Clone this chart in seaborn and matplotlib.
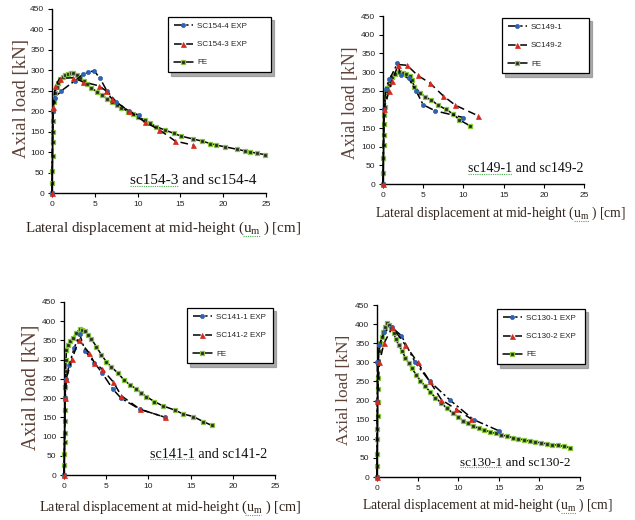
import matplotlib
matplotlib.use("Agg")
import matplotlib.pyplot as plt
import seaborn as sns
from matplotlib.lines import Line2D

# ---------------------------------------------------------------- data
x_ticks = [0, 5, 10, 15, 20, 25]
y_ticks = [0, 50, 100, 150, 200, 250, 300, 350, 400, 450]

# sc154-3 and sc154-4
sc154_fe_x = [0, 0.02, 0.04, 0.06, 0.08, 0.1, 0.12, 0.15, 0.2, 0.35, 0.55, 0.75, 0.95,
              1.25, 1.55, 1.9, 2.2, 2.5, 2.9, 3.3, 3.7, 4.05, 4.6, 5.2, 5.8, 6.4, 7.0,
              7.55, 8.1, 8.9, 9.5, 10.1, 10.9, 11.5, 12.2, 13.2, 14.2, 15.1, 16.5, 17.5,
              18.5, 19.2, 20.2, 21.6, 22.5, 23.1, 23.9, 24.9]
sc154_fe_y = [0, 25, 55, 90, 125, 150, 175, 200, 222, 244, 260, 270, 278,
              284, 288, 291, 293, 293, 288, 282, 274, 266, 257, 248, 240, 231, 223,
              215, 209, 199, 192, 185, 178, 170, 162, 154, 146, 139, 132, 127,
              121, 117, 113, 107, 103, 101, 97, 94]
sc154_4_x = [0, 0.08, 0.3, 1.1, 2.7, 3.6, 4.2, 4.9, 5.6, 6.4, 7.5, 9.0, 10.2]
sc154_4_y = [0, 200, 232, 250, 275, 290, 295, 299, 281, 250, 223, 200, 190]
sc154_3_x = [0, 0.1, 0.4, 0.9, 2.5, 3.6, 5.5, 6.3, 7.0, 9.0, 10.9, 12.5, 14.4, 16.5]
sc154_3_y = [0, 210, 262, 280, 282, 272, 262, 250, 230, 200, 173, 155, 127, 117]
sc154_labels = ["SC154-4 EXP", "SC154-3 EXP", "FE"]
sc154_note = "sc154-3 and sc154-4"

# sc149-1 and sc149-2
sc149_fe_x = [0, 0.03, 0.06, 0.08, 0.1, 0.12, 0.15, 0.2, 0.3, 0.42, 0.55, 0.7, 0.85, 1.1,
              1.5, 1.95, 2.5, 2.9, 3.3, 3.6, 3.9, 4.6, 5.2, 6.0, 6.8, 7.8, 8.7, 9.5, 10.8]
sc149_fe_y = [0, 30, 70, 105, 130, 160, 185, 205, 232, 248, 258, 268, 276, 286,
              295, 300, 298, 295, 289, 278, 261, 245, 234, 225, 212, 200, 188, 172, 156]
sc149_1_x = [0, 0.1, 0.35, 0.8, 1.8, 2.2, 3.2, 4.1, 5.0, 6.5, 10.0]
sc149_1_y = [0, 200, 255, 280, 323, 292, 283, 250, 212, 196, 178]
sc149_2_x = [0, 0.1, 0.75, 1.1, 1.9, 3.0, 4.3, 5.8, 7.5, 9.0, 11.8]
sc149_2_y = [0, 200, 249, 275, 320, 318, 291, 271, 236, 211, 183]
sc149_labels = ["SC149-1", "SC149-2", "FE"]
sc149_note = "sc149-1 and sc149-2"

# sc141-1 and sc141-2
sc141_fe_x = [0, 0.03, 0.05, 0.07, 0.08, 0.1, 0.12, 0.14, 0.16, 0.2, 0.24, 0.28, 0.47,
              0.75, 1.07, 1.46, 1.86, 2.17, 2.45, 2.84, 3.24, 3.83, 4.42, 5.0, 5.6, 6.4,
              7.07, 7.78, 8.57, 9.16, 9.75, 10.7, 11.7, 13.1, 14.1, 15.3, 16.5, 17.5]
sc141_fe_y = [0, 25, 55, 85, 110, 140, 170, 200, 230, 270, 300, 326, 339,
              348, 356, 369, 380, 378, 374, 365, 354, 334, 313, 295, 281, 265,
              248, 235, 224, 213, 204, 191, 180, 169, 159, 152, 139, 129]
sc141_1_x = [0, 0.12, 0.25, 0.6, 1.2, 1.86, 2.5, 3.6, 4.5, 5.8, 6.8, 9.0, 12.0]
sc141_1_y = [0, 200, 250, 285, 330, 366, 323, 292, 266, 223, 199, 171, 150]
sc141_2_x = [0, 0.16, 0.25, 0.95, 1.74, 3.0, 3.6, 4.5, 5.8, 6.8, 9.0, 12.0]
sc141_2_y = [0, 200, 250, 301, 351, 317, 292, 276, 243, 206, 171, 150]
sc141_labels = ["SC141-1 EXP", "SC141-2 EXP", "FE"]
sc141_note = "sc141-1 and sc141-2"

# sc130-1 and sc130-2
sc130_fe_x = [0, 0.02, 0.04, 0.05, 0.06, 0.07, 0.08, 0.1, 0.12, 0.15, 0.25, 0.4, 0.6,
              0.8, 1.0, 1.23, 1.5, 1.77, 2.05, 2.34, 2.67, 3.08, 3.5, 3.9, 4.3, 4.84,
              5.34, 5.95, 6.57, 7.2, 7.9, 8.6, 9.3, 10.0, 10.6, 11.2, 11.8, 12.5, 13.2,
              13.9, 14.6, 15.3, 16.0, 16.7, 17.4, 18.1, 18.8, 19.5, 20.2, 20.9, 21.6,
              22.3, 23.0, 23.8]
sc130_fe_y = [0, 30, 60, 100, 125, 160, 195, 230, 260, 297, 330, 350, 365,
              380, 393, 402, 398, 389, 376, 360, 345, 330, 312, 298, 284, 267,
              252, 237, 222, 207, 194, 180, 168, 157, 147, 140, 133, 128, 123,
              118, 114, 110, 107, 103, 100, 97, 94, 92, 89, 87, 85,
              83, 80, 77]
sc130_1_x = [0, 0.02, 0.05, 0.3, 0.9, 1.8, 3.0, 4.7, 6.5, 9.0, 11.9, 15.0]
sc130_1_y = [0, 200, 300, 345, 380, 392, 370, 300, 250, 201, 150, 121]
sc130_2_x = [0, 0.05, 0.3, 0.86, 1.9, 3.5, 5.0, 6.5, 7.94, 9.7, 11.6]
sc130_2_y = [0, 200, 300, 350, 392, 345, 300, 250, 202, 178, 152]
sc130_labels = ["SC130-1 EXP", "SC130-2 EXP", "FE"]
sc130_note = "sc130-1 and sc130-2"

y_title = "Axial load [kN]"
x_title = r"Lateral displacement at mid-height (u$_{\mathrm{m}}$ ) [cm]"
x_title_before_u = "Lateral displacement at mid-height ("

# ---------------------------------------------------------------- style
sns.set_style("white")
narrow = ["Liberation Sans Narrow", "Liberation Sans", "DejaVu Sans"]
serif = ["Liberation Serif", "DejaVu Serif"]
plt.rcParams["font.family"] = narrow
plt.rcParams["mathtext.fontset"] = "custom"
plt.rcParams["mathtext.rm"] = "Liberation Serif"
plt.rcParams["mathtext.it"] = "Liberation Serif:italic"

W, H = 635.0, 520.0
fig = plt.figure(figsize=(W / 100, H / 100), dpi=100)
fig.patch.set_facecolor("white")

FE_STYLE = dict(color="black", lw=1.1, linestyle="-", marker="s", markersize=3.2,
                markerfacecolor="#262626", markeredgecolor="#86c440", markeredgewidth=0.9)
EXP1_STYLE = dict(color="black", lw=1.1, linestyle=(0, (6, 2, 1.5, 2)), marker="o",
                  markersize=3.0, markerfacecolor="#2f62b0", markeredgecolor="#2f62b0",
                  markeredgewidth=0.5)
EXP2_STYLE = dict(color="black", lw=1.1, linestyle=(0, (5, 3)), marker="^",
                  markersize=3.6, markerfacecolor="#d42a20", markeredgecolor="#d42a20",
                  markeredgewidth=0.5)

YLAB_COLOR = "#5e4137"
XLAB_COLOR = "#33261f"


def frac_rect(x0, y0, x1, y1):
    return [x0 / W, 1 - y1 / H, (x1 - x0) / W, (y1 - y0) / H]


def draw_panel(box, series, labels, note, legend_box, ylab, xlab, note_pos):
    ax = fig.add_axes(frac_rect(*box))
    (fx, fy), (e1x, e1y), (e2x, e2y) = series
    sns.lineplot(x=e1x, y=e1y, ax=ax, sort=False, estimator=None, label=labels[0],
                 clip_on=False, zorder=3, **EXP1_STYLE)
    sns.lineplot(x=e2x, y=e2y, ax=ax, sort=False, estimator=None, label=labels[1],
                 clip_on=False, zorder=3, **EXP2_STYLE)
    sns.lineplot(x=fx, y=fy, ax=ax, sort=False, estimator=None, label=labels[2],
                 clip_on=False, zorder=2, **FE_STYLE)

    ax.set_xlim(0, 25)
    ax.set_ylim(0, 450)
    ax.set_xticks(x_ticks)
    ax.set_yticks(y_ticks)
    ax.set_xlabel("")
    ax.set_ylabel("")
    for side in ("top", "right"):
        ax.spines[side].set_visible(False)
    for side in ("left", "bottom"):
        ax.spines[side].set_color("black")
        ax.spines[side].set_linewidth(1.0)
    ax.tick_params(axis="both", which="major", direction="out", length=3, width=0.8,
                   color="black", labelsize=6.0, labelcolor="#222222", pad=2.5,
                   left=True, bottom=True)
    ax.set_facecolor("none")

    handles, _ = ax.get_legend_handles_labels()
    lx0, ly0, lx1, ly1 = legend_box
    leg = ax.legend(handles, labels, loc="upper left",
                    bbox_to_anchor=(lx0 / W, 1 - ly1 / H, (lx1 - lx0) / W, (ly1 - ly0) / H),
                    bbox_transform=fig.transFigure, mode="expand", borderaxespad=0,
                    frameon=True, fancybox=False, edgecolor="black",
                    shadow={"ox": 2.5, "oy": -2.5, "color": "#8a8a8a", "alpha": 0.7},
                    fontsize=5.8, handlelength=2.4, handletextpad=0.5,
                    labelspacing=1.3, borderpad=0.7, numpoints=1)
    leg.get_frame().set_linewidth(0.9)
    leg.get_frame().set_alpha(1)

    fig.text(ylab[0] / W, 1 - ylab[1] / H, y_title, rotation=90, ha="center",
             va="center", fontsize=ylab[2], family=serif, color=YLAB_COLOR)
    xl = fig.text(xlab[0] / W, 1 - xlab[1] / H, x_title, ha="center", va="center",
                  fontsize=xlab[2], family=serif, color=XLAB_COLOR)
    nt = fig.text(note_pos[0] / W, 1 - note_pos[1] / H, note, ha="left", va="center",
                  fontsize=note_pos[2], family=serif, color="#111111")
    return ax, xl, nt


def text_width(s, size):
    r = fig.canvas.get_renderer()
    tmp = fig.text(0, 0, s, fontsize=size, family=serif)
    w = tmp.get_window_extent(r).width
    tmp.remove()
    return w


def squiggle(x0, x1, y, color):
    fig.add_artist(Line2D([x0 / W, x1 / W], [y / H, y / H], transform=fig.transFigure,
                          color=color, lw=0.8, linestyle=(0, (1, 1))))


panels = [
    dict(box=(52, 9, 266, 193),
         series=[(sc154_fe_x, sc154_fe_y), (sc154_4_x, sc154_4_y), (sc154_3_x, sc154_3_y)],
         labels=sc154_labels, note=sc154_note, legend_box=(168, 17, 271, 73),
         ylab=(22, 99, 13.5), xlab=(163, 228, 10.8), note_pos=(130, 181, 11)),
    dict(box=(383, 16, 584, 184),
         series=[(sc149_fe_x, sc149_fe_y), (sc149_1_x, sc149_1_y), (sc149_2_x, sc149_2_y)],
         labels=sc149_labels, note=sc149_note, legend_box=(502, 18, 589, 70),
         ylab=(350, 103, 12.8), xlab=(500, 213, 9.8), note_pos=(468, 169, 10)),
    dict(box=(64, 302, 275, 475),
         series=[(sc141_fe_x, sc141_fe_y), (sc141_1_x, sc141_1_y), (sc141_2_x, sc141_2_y)],
         labels=sc141_labels, note=sc141_note, legend_box=(187, 308, 273, 361),
         ylab=(31, 387, 14.2), xlab=(170, 507, 10.3), note_pos=(150, 454, 10.2)),
    dict(box=(377, 305, 580, 477),
         series=[(sc130_fe_x, sc130_fe_y), (sc130_1_x, sc130_1_y), (sc130_2_x, sc130_2_y)],
         labels=sc130_labels, note=sc130_note, legend_box=(497, 309, 585, 362),
         ylab=(344, 390, 12.5), xlab=(487, 505, 9.8), note_pos=(460, 463, 9.6)),
]

drawn = [draw_panel(**p) for p in panels]

# proofing-style dotted underlines beneath the first specimen name and u_m
fig.canvas.draw()
r = fig.canvas.get_renderer()
for (ax, xl, nt), p in zip(drawn, panels):
    bb = nt.get_window_extent(r)
    first = p["note"].split(" ")[0]
    w = text_width(first, p["note_pos"][2])
    squiggle(bb.x0, bb.x0 + w, bb.y0 + 2, "#4caf50")
    bx = xl.get_window_extent(r)
    u0 = bx.x0 + text_width(x_title_before_u, p["xlab"][2])
    u1 = u0 + text_width("um", p["xlab"][2]) * 0.85
    squiggle(u0, u1, bx.y0 + 1, "#4caf50")

fig.savefig("out.png", dpi=100, facecolor="white")
